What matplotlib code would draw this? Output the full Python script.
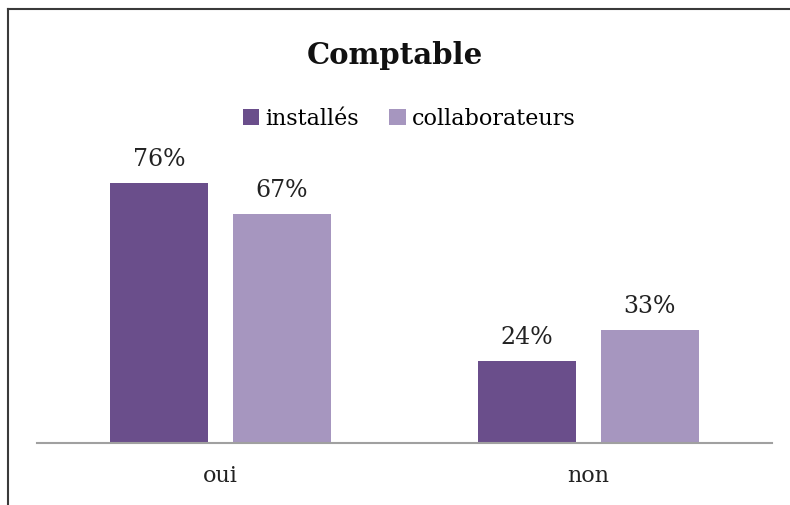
import numpy as np
import matplotlib.pyplot as plt
from matplotlib.lines import Line2D

# Data
categories = ['oui', 'non']
series_names = ['installés', 'collaborateurs']
installes = [76, 24]
collaborateurs = [67, 33]
colors = ['#6A4E8B', '#A696BF']

W, H = 790, 505
FONT = 'DejaVu Serif'


def main():
    fig = plt.figure(figsize=(W / 100, H / 100), dpi=100)
    ax = fig.add_axes([37 / W, 1 - 443 / H, (772 - 37) / W, (443 - 101) / H])

    x = np.arange(len(categories))
    width = 0.267
    offset = 0.167
    for vals, name, col, off in [(installes, series_names[0], colors[0], -offset),
                                 (collaborateurs, series_names[1], colors[1], offset)]:
        bars = ax.bar(x + off, vals, width, color=col, label=name)
        for b, v in zip(bars, vals):
            ax.text(b.get_x() + b.get_width() / 2, v + 5, f'{v}%',
                    ha='center', va='baseline', fontsize=17, family=FONT, color='#222222')

    ax.set_xlim(-0.5, 1.5)
    ax.set_ylim(0, 100)
    ax.set_yticks([])
    ax.set_xticks(x)
    ax.set_xticklabels(categories, fontsize=16, family=FONT, color='#222222')
    ax.tick_params(axis='x', length=0, pad=16)
    for s in ['top', 'right', 'left']:
        ax.spines[s].set_visible(False)
    ax.spines['bottom'].set_color('#A0A0A0')
    ax.spines['bottom'].set_linewidth(1.5)

    fig.text(0.5, 1 - 55 / H, 'Comptable', ha='center', va='center',
             fontsize=21, fontweight='bold', family=FONT, color='#111111')

    fig.legend(loc='center', bbox_to_anchor=(409 / W, 1 - 119 / H), ncol=2, frameon=False,
               prop={'family': FONT, 'size': 16}, handlelength=0.75, handleheight=0.75,
               handletextpad=0.25, columnspacing=1.4)

    # chart frame (cropped at right and bottom)
    fig.add_artist(Line2D([8 / W, 1], [1 - 9 / H, 1 - 9 / H], color='#3A3A3A', lw=1.5,
                          transform=fig.transFigure))
    fig.add_artist(Line2D([8 / W, 8 / W], [0, 1 - 9 / H], color='#3A3A3A', lw=1.5,
                          transform=fig.transFigure))

    fig.savefig('out.png', dpi=100)


if __name__ == '__main__':
    main()
